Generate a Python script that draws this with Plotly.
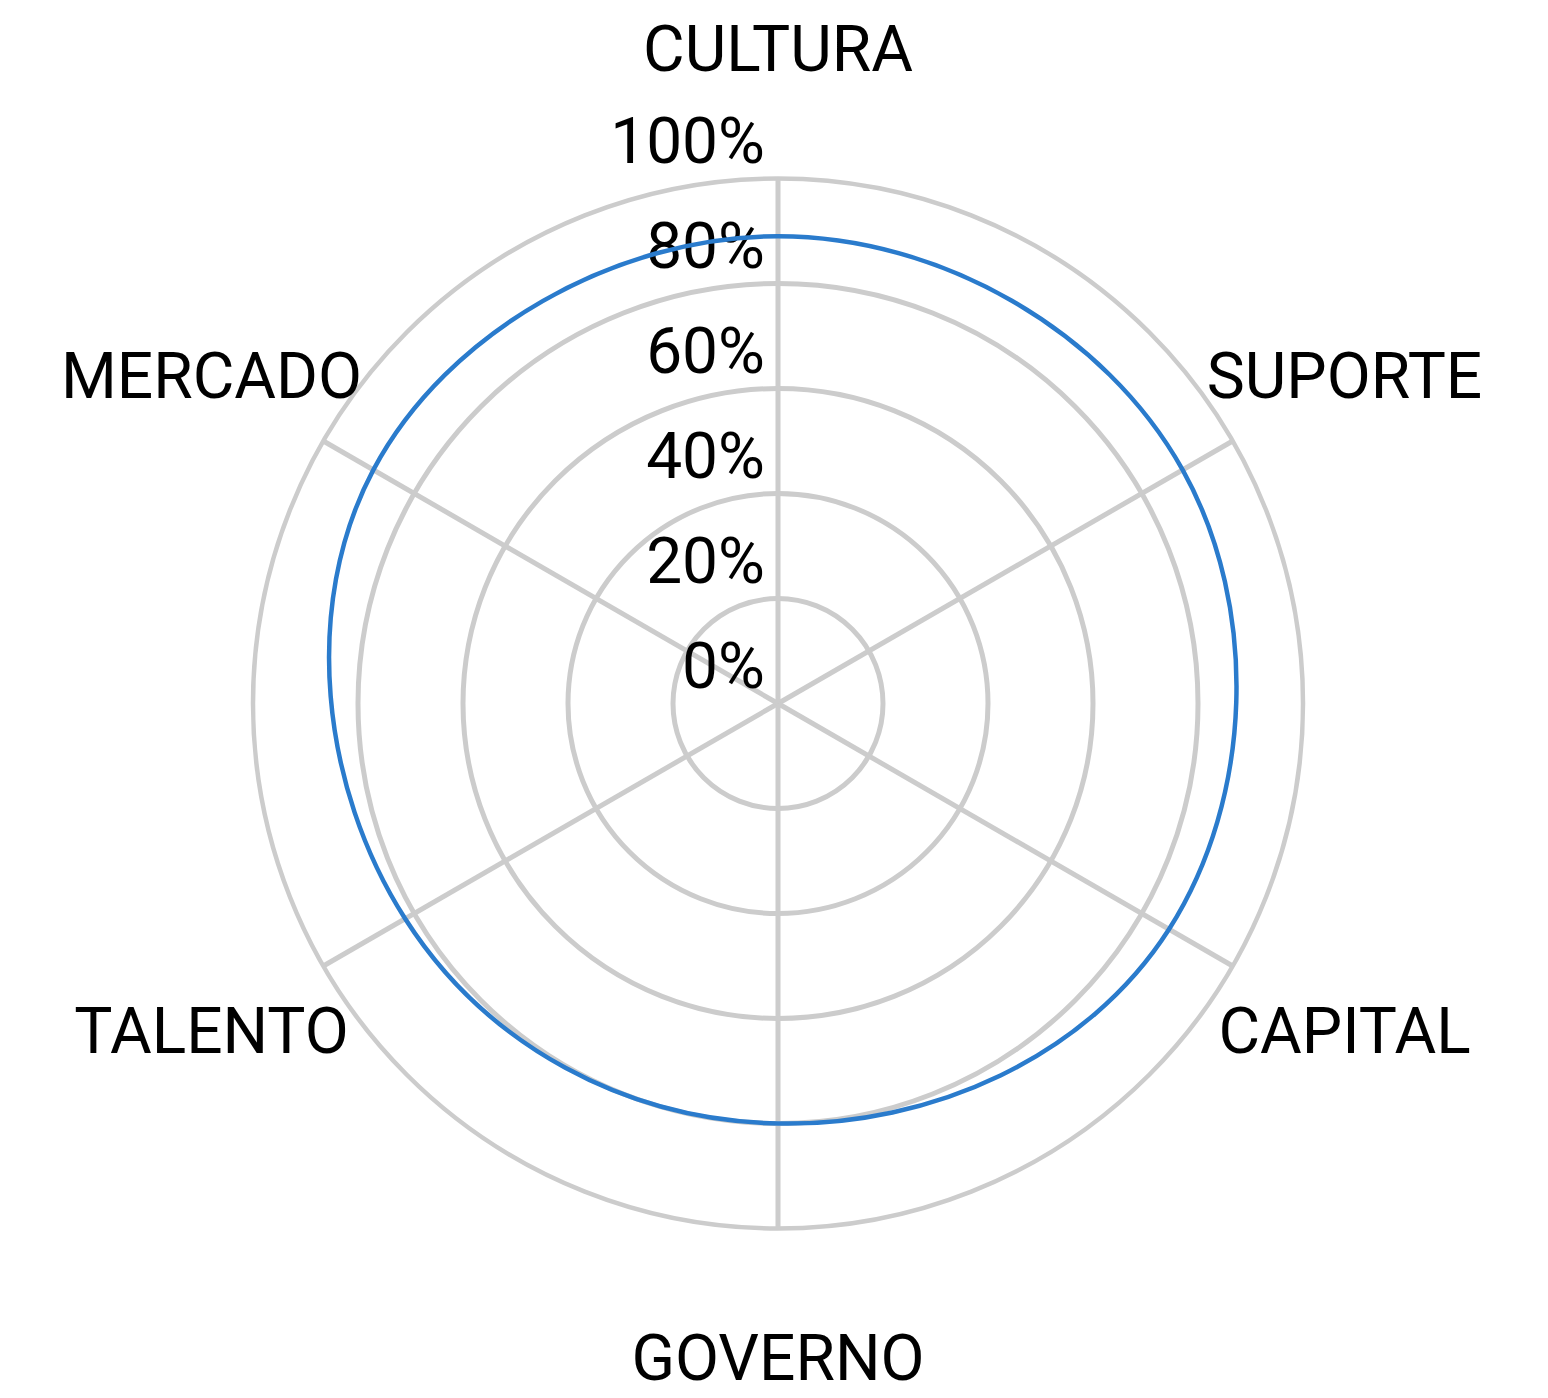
import plotly.graph_objects as go

# ---- data ----
categories = ["CULTURA", "SUPORTE", "CAPITAL", "GOVERNO", "TALENTO", "MERCADO"]
values = [89, 89, 86, 80, 82, 89]
radial_ticks = [0, 20, 40, 60, 80, 100]
radial_tick_labels = ["0%", "20%", "40%", "60%", "80%", "100%"]

# ---- layout constants ----
W, H = 1548, 1398
PAGE_OFFSET = 8            # default body margin of the html page
CX, CY = 778 - PAGE_OFFSET, 703 - PAGE_OFFSET + 0.5   # chart centre in figure pixels
LABEL_DY = 6               # category names sit slightly lower than the rays
R_PX = 525                 # pixel radius of the 100% ring
R_MAX = 100
LABEL_R = 124.6            # radial position (in % units) of the category names
OUTER_MAX = 130            # range of the invisible label subplot
R2_PX = R_PX * OUTER_MAX / R_MAX

FONT = "Roboto, 'Noto Sans', sans-serif"
GRID = "#cccccc"
BLUE = "#2a7bcc"
LINE_W = 4.5


def domain(cx, cy, r):
    return dict(x=[(cx - r) / W, (cx + r) / W],
                y=[(H - cy - r) / H, (H - cy + r) / H])


fig = go.Figure()

# radial tick labels (drawn first so the series line passes over them)
fig.add_trace(go.Scatterpolar(
    r=radial_ticks,
    theta=[categories[0]] * len(radial_ticks),
    mode="text",
    text=[t + "\u2009" for t in radial_tick_labels],
    textposition="top left",
    textfont=dict(family=FONT, size=64, color="#000000"),
    cliponaxis=False,
    hoverinfo="skip",
    subplot="polar",
))

# the series
fig.add_trace(go.Scatterpolar(
    r=values + values[:1],
    theta=categories + categories[:1],
    mode="lines",
    line=dict(color=BLUE, width=LINE_W, shape="spline", smoothing=1.2),
    hoverinfo="r+theta",
    subplot="polar",
))

# category names
fig.add_trace(go.Scatterpolar(
    r=[LABEL_R] * len(categories),
    theta=categories,
    mode="text",
    text=categories,
    textposition="middle center",
    textfont=dict(family=FONT, size=64, color="#000000"),
    cliponaxis=False,
    hoverinfo="skip",
    subplot="polar2",
))

angular_common = dict(
    type="category",
    categoryorder="array",
    categoryarray=categories,
    rotation=90,
    direction="clockwise",
)

fig.update_layout(
    width=W,
    height=H,
    margin=dict(l=0, r=0, t=0, b=0),
    paper_bgcolor="white",
    plot_bgcolor="white",
    showlegend=False,
    font=dict(family=FONT, color="#000000"),
    polar=dict(
        domain=domain(CX, CY, R_PX),
        bgcolor="white",
        radialaxis=dict(
            range=[0, R_MAX],
            tickvals=radial_ticks,
            showticklabels=False,
            ticks="",
            showline=False,
            gridcolor=GRID,
            gridwidth=LINE_W,
            angle=90,
        ),
        angularaxis=dict(
            **angular_common,
            showticklabels=False,
            ticks="",
            showline=True,
            linecolor=GRID,
            linewidth=LINE_W,
            gridcolor=GRID,
            gridwidth=LINE_W,
        ),
    ),
    polar2=dict(
        domain=domain(CX, CY + LABEL_DY, R2_PX),
        bgcolor="rgba(0,0,0,0)",
        radialaxis=dict(range=[0, OUTER_MAX], visible=False),
        angularaxis=dict(**angular_common, visible=False),
    ),
)

fig.write_html("out.html")
